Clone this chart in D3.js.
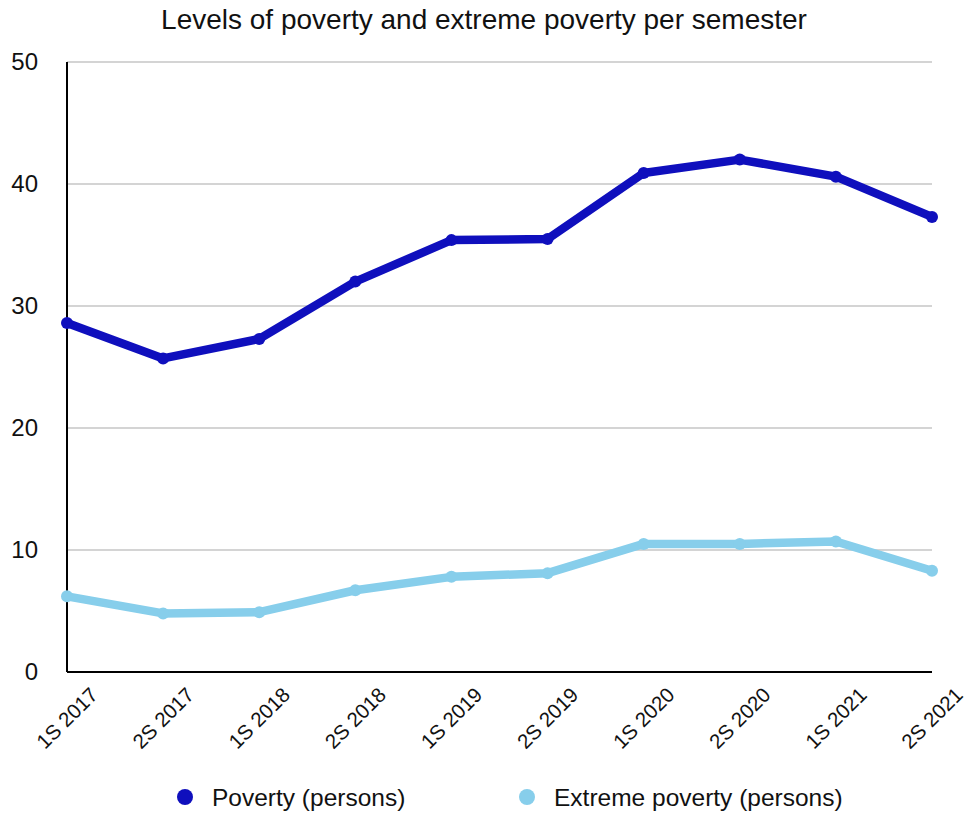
<!DOCTYPE html>
<html>
<head>
<meta charset="utf-8">
<script src="https://cdn.jsdelivr.net/npm/d3@7"></script>
<style>
  body { margin: 0; background: #fff; }
  text { font-family: "Liberation Sans", Arial, sans-serif; }
</style>
</head>
<body>
<div id="vis"></div>
<script>
const FRAME_WIDTH = 968;
const FRAME_HEIGHT = 814;
const MARGINS = { top: 62, bottom: 142, left: 67, right: 36 };
const VIS_WIDTH = FRAME_WIDTH - MARGINS.left - MARGINS.right;
const VIS_HEIGHT = FRAME_HEIGHT - MARGINS.top - MARGINS.bottom;

const SEMESTERS = ["1S 2017", "2S 2017", "1S 2018", "2S 2018", "1S 2019",
  "2S 2019", "1S 2020", "2S 2020", "1S 2021", "2S 2021"];
const POVERTY = [28.6, 25.7, 27.3, 32.0, 35.4, 35.5, 40.9, 42.0, 40.6, 37.3];
const EXTREME = [6.2, 4.8, 4.9, 6.7, 7.8, 8.1, 10.5, 10.5, 10.7, 8.3];
const Y_TICKS = [0, 10, 20, 30, 40, 50];

const SERIES = [
  { name: "Poverty (persons)", values: POVERTY, color: "#0f0fbd" },
  { name: "Extreme poverty (persons)", values: EXTREME, color: "#87ceeb" },
];

const FRAME = d3
  .select("#vis")
  .append("svg")
  .attr("width", FRAME_WIDTH)
  .attr("height", FRAME_HEIGHT);

const X_SCALE = d3.scalePoint().domain(SEMESTERS).range([0, VIS_WIDTH]);
const Y_SCALE = d3.scaleLinear().domain([0, 50]).range([VIS_HEIGHT, 0]);

const G = FRAME.append("g")
  .attr("transform", `translate(${MARGINS.left},${MARGINS.top})`);

// gridlines
G.append("g")
  .selectAll("line")
  .data(Y_TICKS.filter((t) => t > 0))
  .enter()
  .append("line")
  .attr("x1", 0)
  .attr("x2", VIS_WIDTH)
  .attr("y1", (d) => Y_SCALE(d))
  .attr("y2", (d) => Y_SCALE(d))
  .attr("stroke", "#aaaaaa")
  .attr("stroke-width", 1.2);

// y axis labels
const yAxis = G.append("g")
  .call(d3.axisLeft(Y_SCALE).tickValues(Y_TICKS).tickSize(0).tickPadding(29));
yAxis.select(".domain").remove();
yAxis.selectAll("text")
  .attr("font-size", 24)
  .attr("fill", "#111")
  .style("font-family", "'Liberation Sans', Arial, sans-serif");

// axis lines
G.append("line")
  .attr("x1", 0).attr("x2", 0)
  .attr("y1", 0).attr("y2", VIS_HEIGHT)
  .attr("stroke", "#000").attr("stroke-width", 2);
G.append("line")
  .attr("x1", 0).attr("x2", VIS_WIDTH)
  .attr("y1", VIS_HEIGHT).attr("y2", VIS_HEIGHT)
  .attr("stroke", "#000").attr("stroke-width", 2);

// x labels
G.append("g")
  .selectAll("text")
  .data(SEMESTERS)
  .enter()
  .append("text")
  .attr("transform", (d) => `translate(${X_SCALE(d) + 27},${VIS_HEIGHT + 19}) rotate(-45)`)
  .attr("text-anchor", "end")
  .attr("dy", "0.35em")
  .attr("font-size", 20.5)
  .attr("fill", "#111")
  .text((d) => d);

// lines + points
const line = d3.line()
  .x((d, i) => X_SCALE(SEMESTERS[i]))
  .y((d) => Y_SCALE(d));

SERIES.slice().reverse().forEach((s) => {
  G.append("path")
    .datum(s.values)
    .attr("d", line)
    .attr("fill", "none")
    .attr("stroke", s.color)
    .attr("stroke-width", 8.5)
    .attr("stroke-linejoin", "round")
    .attr("stroke-linecap", "round");

  G.selectAll(null)
    .data(s.values)
    .enter()
    .append("circle")
    .attr("cx", (d, i) => X_SCALE(SEMESTERS[i]))
    .attr("cy", (d) => Y_SCALE(d))
    .attr("r", 6)
    .attr("fill", s.color);
});

// title
FRAME.append("text")
  .attr("x", FRAME_WIDTH / 2)
  .attr("y", 29)
  .attr("text-anchor", "middle")
  .attr("font-size", 28)
  .attr("fill", "#111")
  .text("Levels of poverty and extreme poverty per semester");

// legend
const LEGEND_X = [185, 527];
const legend = FRAME.append("g")
  .selectAll("g")
  .data(SERIES)
  .enter()
  .append("g")
  .attr("transform", (d, i) => `translate(${LEGEND_X[i]},797)`);
legend.append("circle")
  .attr("r", 8)
  .attr("fill", (d) => d.color);
legend.append("text")
  .attr("x", 27)
  .attr("dy", "0.35em")
  .attr("font-size", 24.5)
  .attr("fill", "#111")
  .text((d) => d.name);
</script>
</body>
</html>
